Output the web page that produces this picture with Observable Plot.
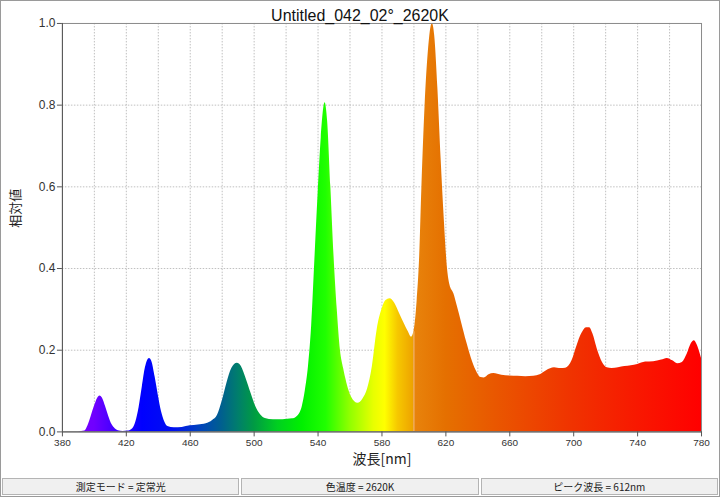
<!DOCTYPE html>
<html>
<head>
<meta charset="utf-8">
<script src="https://cdn.jsdelivr.net/npm/d3@7"></script>
<script src="https://cdn.jsdelivr.net/npm/@observablehq/plot@0.6"></script>
<style>
  html, body { margin: 0; padding: 0; background: #fff; }
  #wrap { position: relative; width: 720px; height: 497px; box-sizing: border-box; border: 1px solid #9a9a9a; overflow: hidden; background: #fff; }
  #chart { position: absolute; left: -1px; top: -1px; }
  #status { position: absolute; left: 1px; top: 477px; width: 716px; height: 17px; display: flex; gap: 2px; }
  #status div { flex: 1; box-sizing: border-box; border: 1px solid #b4b4b4; background: #f0f0f0; font: 10px "Noto Sans CJK JP", "Liberation Sans", sans-serif; color: #222; text-align: center; line-height: 15px; }
</style>
</head>
<body>
<div id="wrap">
  <div id="chart"></div>
  <div id="status"></div>
</div>
<script>
const title = "Untitled_042_02°_2620K";
const xLabel = "波長[nm]";
const yLabel = "相対値";
const statusTexts = ["測定モード = 定常光", "色温度 = 2620K", "ピーク波長 = 612nm"];

const xTicks = [380, 420, 460, 500, 540, 580, 620, 660, 700, 740, 780];
const xGridLines = [400, 420, 440, 460, 480, 500, 520, 540, 560, 580, 600, 620, 640, 660, 680, 700, 720, 740, 760];
const yTicks = [0, 0.2, 0.4, 0.6, 0.8, 1.0];
const seamNm = [600];

const wavelengths = [
  380, 390, 394, 396, 398, 400, 402, 403.5, 405, 407, 409, 411, 413, 415, 418,
  421, 424, 426, 428, 430, 432, 434.5, 436, 438, 440, 442, 444, 446, 450, 455,
  460, 465, 470, 474, 477, 480, 483, 486, 489.5, 492, 495, 498, 501, 504, 507,
  512, 518, 524, 526.5, 528.5, 530, 532, 534, 536, 538, 540, 542, 544.4, 546, 548, 550,
  552, 554, 556, 558, 561, 565, 568, 571, 574, 577, 580, 582.5, 585, 588, 591,
  594, 596.5, 598.5, 600, 602, 603.5, 605, 607, 609, 611.5, 613, 615, 617, 619,
  621, 622.5, 625, 627, 630, 633, 636, 639, 642, 644, 647, 650, 655, 660, 665,
  670, 675, 679, 683, 688, 692, 695, 699, 702, 705, 708, 710, 712, 715, 718,
  721, 724, 728, 732, 736, 740, 745, 750, 755, 758.5, 762, 765, 768, 771, 773.5,
  775.5, 777, 778.5, 780
];
const intensities = [
  0, 0, 0.002, 0.015, 0.038, 0.062, 0.082, 0.088, 0.083, 0.062, 0.038, 0.018, 0.008, 0.003, 0.001,
  0.002, 0.008, 0.025, 0.06, 0.11, 0.158, 0.18, 0.172, 0.135, 0.09, 0.05, 0.025, 0.013, 0.01, 0.011,
  0.015, 0.017, 0.02, 0.028, 0.04, 0.075, 0.12, 0.155, 0.168, 0.16, 0.13, 0.095, 0.062, 0.042, 0.033,
  0.03, 0.03, 0.032, 0.036, 0.045, 0.06, 0.1, 0.16, 0.26, 0.42, 0.58, 0.72, 0.806, 0.76, 0.6, 0.43,
  0.3, 0.2, 0.155, 0.12, 0.085, 0.07, 0.08, 0.105, 0.16, 0.25, 0.3, 0.322, 0.326, 0.315, 0.29,
  0.265, 0.245, 0.232, 0.245, 0.32, 0.42, 0.6, 0.8, 0.93, 1.0, 0.97, 0.84, 0.67, 0.52,
  0.4, 0.36, 0.338, 0.31, 0.265, 0.22, 0.18, 0.15, 0.133, 0.132, 0.14, 0.143, 0.139, 0.137, 0.136,
  0.135, 0.136, 0.14, 0.15, 0.157, 0.155, 0.156, 0.175, 0.21, 0.24, 0.255, 0.255, 0.24, 0.2, 0.17,
  0.157, 0.155, 0.157, 0.16, 0.162, 0.165, 0.171, 0.172, 0.176, 0.18, 0.174, 0.167, 0.17, 0.19, 0.215,
  0.223, 0.215, 0.2, 0.18
];

const spectrum = wavelengths.map((w, i) => ({w, v: intensities[i]}));
const seam = spectrum.filter(d => seamNm.includes(d.w));

// colour stops of the wavelength gradient
const stopNm = [380, 400, 415, 430, 450, 465, 480, 490, 500, 515, 530, 545, 560, 575, 582, 590, 599.4, 600.2, 620, 650, 700, 740, 780];
const stopCol = ["#7a00ff", "#7000ff", "#3a00ff", "#0000ff", "#0010f0", "#0040c0", "#00608e", "#007e6c", "#009a44", "#00d020", "#00f000", "#20ff00", "#90ff00", "#e8ff00", "#ffff00", "#f6c800", "#eea400", "#e8840c", "#e57000", "#e95800", "#f03200", "#f81800", "#ff0000"];

const font = '"Liberation Sans", "Noto Sans CJK JP", sans-serif';

const plot = Plot.plot({
  width: 720,
  height: 470,
  marginLeft: 62,
  marginRight: 18,
  marginTop: 23,
  marginBottom: 38,
  style: {fontFamily: font, fontSize: "11px", color: "#333", background: "transparent", overflow: "visible"},
  x: {domain: [380, 780]},
  y: {domain: [0, 1]},
  marks: [
    Plot.gridX(xGridLines, {stroke: "#c0c0c0", strokeOpacity: 1, strokeDasharray: "1.5,1.5"}),
    Plot.gridY(yTicks.slice(1, 5), {stroke: "#c0c0c0", strokeOpacity: 1, strokeDasharray: "1.5,1.5"}),
    Plot.areaY(spectrum, {x: "w", y: "v", curve: "monotone-x", fill: "url(#specgrad)"}),
    Plot.ruleX(seam, {x: "w", y1: 0, y2: "v", stroke: "#f4cfa0", strokeWidth: 1, strokeOpacity: 0.8}),
    Plot.frame({stroke: "#8a8a8a"}),
    Plot.ruleX([380], {stroke: "#555"}),
    Plot.ruleY([0], {stroke: "#555"}),
    Plot.axisX({ticks: xTicks, tickSize: 5, tickPadding: 2, tickFormat: d => String(d), label: null, fontSize: 10, stroke: "#555", fill: "#333"}),
    Plot.axisY({ticks: yTicks, tickSize: 5, tickPadding: 2, tickFormat: d3.format(".1f"), label: null, fontSize: 12, stroke: "#555", fill: "#333"}),
    Plot.text([title], {frameAnchor: "top", dx: -22, dy: -14, fontSize: 16, fill: "#111", fontFamily: font}),
    Plot.text([xLabel], {frameAnchor: "bottom", dy: 32, fontSize: 14, fill: "#222", fontFamily: '"Noto Sans CJK JP", sans-serif'}),
    Plot.text([yLabel], {frameAnchor: "left", dx: -47, rotate: -90, fontSize: 13, fill: "#222", fontFamily: '"Noto Sans CJK JP", sans-serif'})
  ]
});

const xs = plot.scale("x");
const svg = d3.select(plot);
const grad = svg.insert("defs", ":first-child").append("linearGradient")
  .attr("id", "specgrad")
  .attr("gradientUnits", "userSpaceOnUse")
  .attr("x1", xs.apply(380)).attr("x2", xs.apply(780))
  .attr("y1", 0).attr("y2", 0);
stopNm.forEach((nm, i) => {
  grad.append("stop").attr("offset", (nm - 380) / 400).attr("stop-color", stopCol[i]);
});

document.getElementById("chart").appendChild(plot);
const status = document.getElementById("status");
statusTexts.forEach(t => { const d = document.createElement("div"); d.textContent = t; status.appendChild(d); });
</script>
</body>
</html>
